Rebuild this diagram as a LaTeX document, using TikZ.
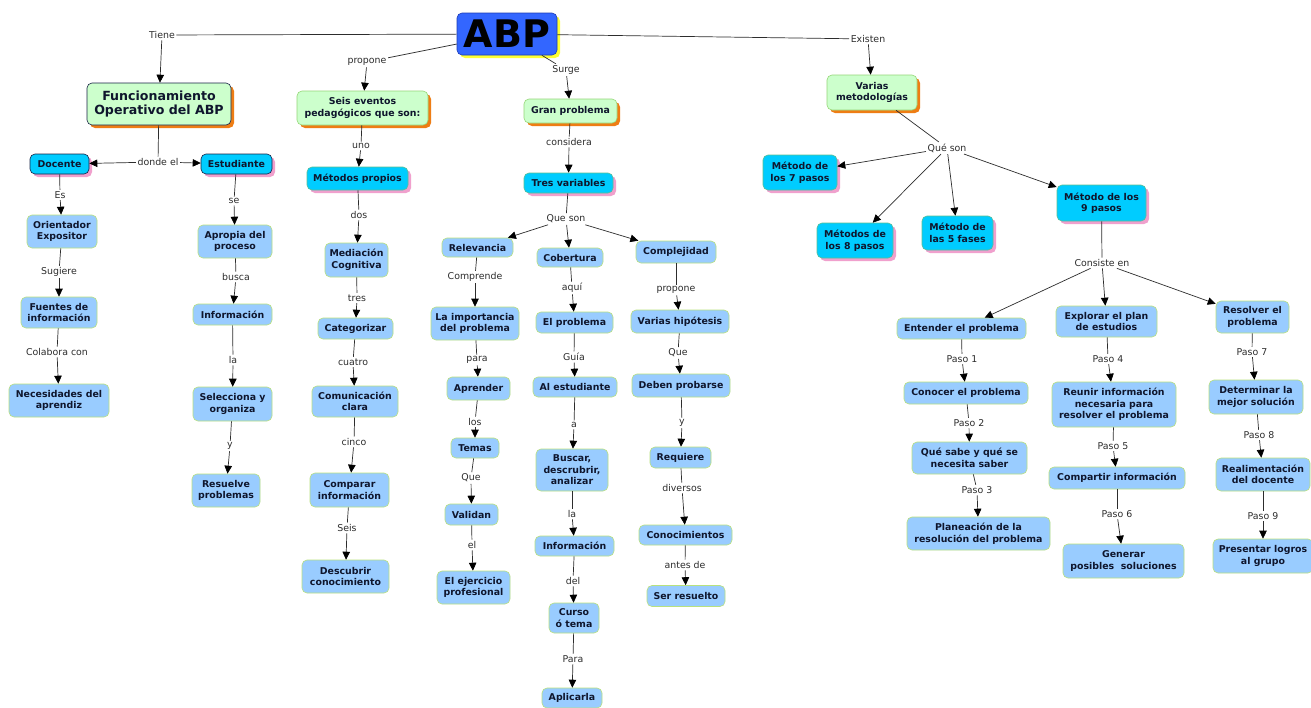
\documentclass[tikz,border=0pt]{standalone}
\usepackage{fontspec}
\setmainfont{DejaVu Sans}
\usetikzlibrary{arrows.meta,shadows}
\definecolor{txt}{RGB}{15,22,45}
\definecolor{lbltxt}{RGB}{45,45,45}
\definecolor{lncol}{RGB}{45,45,45}
\definecolor{gfill}{RGB}{204,255,204}
\definecolor{gline}{RGB}{150,215,120}
\definecolor{shorange}{RGB}{238,125,20}
\definecolor{cfill}{RGB}{0,204,255}
\definecolor{cline}{RGB}{90,190,150}
\definecolor{darkline}{RGB}{25,35,70}
\definecolor{shpink}{RGB}{240,160,205}
\definecolor{bfill}{RGB}{153,204,255}
\definecolor{bline}{RGB}{185,225,125}
\definecolor{abpfill}{RGB}{51,102,255}
\definecolor{abpline}{RGB}{30,60,180}
\definecolor{abpshadow}{RGB}{255,255,51}
\newcommand\cmlink[3]{\draw[conn] (#1) -- (#2); \draw[arr] (#2) -- (#3);}
\begin{document}
\begin{tikzpicture}[x=1pt,y=-1pt,
  sz/.style 2 args={minimum width=#1pt,minimum height=#2pt},
  cbase/.style={rounded corners=5pt, align=center, inner sep=0pt,
    font=\bfseries\fontsize{9.4}{11.5}\selectfont, text=txt, line width=0.6pt},
  gnode/.style={cbase, fill=gfill, draw=gline,
    drop shadow={shadow xshift=3pt,shadow yshift=-3pt,fill=shorange,opacity=1}},
  cnode/.style={cbase, fill=cfill, draw=cline,
    drop shadow={shadow xshift=3pt,shadow yshift=-3pt,fill=shpink,opacity=1}},
  bnode/.style={cbase, fill=bfill, draw=bline},
  lbl/.style={font=\fontsize{9.4}{11}\selectfont, text=lbltxt, inner sep=1.5pt},
  conn/.style={draw=lncol, line width=0.7pt},
  arr/.style={conn, -{Triangle[length=8pt,width=7.5pt,color=black,fill=black]}},
]
\fill[white] (0,0) rectangle (1311,707);
\useasboundingbox (0,0) rectangle (1311,707);

% ---------- concepts ----------
\node[cbase, sz={100}{42}, fill=abpfill, draw=abpline, text=black,
  font=\bfseries\fontsize{38}{40}\selectfont,
  drop shadow={shadow xshift=3pt,shadow yshift=-3pt,fill=abpshadow,opacity=1}] (abp) at (507,34) {ABP};

\node[gnode, sz={144}{42}, draw=darkline, font=\bfseries\fontsize{12.6}{14.7}\selectfont] (func) at (159,104) {Funcionamiento\\Operativo del ABP};
\node[gnode, sz={131}{34}] (seis) at (362.5,108) {Seis eventos\\pedagógicos que son:};
\node[gnode, sz={93}{24}] (gran) at (570.5,111) {Gran problema};
\node[gnode, sz={90}{35}] (varias) at (872,92.5) {Varias\\metodologías};

\node[cnode, sz={59}{20}, draw=darkline] (docente) at (59.5,164) {Docente};
\node[cnode, sz={71}{20}, draw=darkline] (estud) at (236.5,164) {Estudiante};
\node[bnode, sz={70}{33}] (orient) at (62,231.5) {Orientador\\Expositor};
\node[bnode, sz={76}{31}] (fuentes) at (59,312.5) {Fuentes de\\información};
\node[bnode, sz={100}{33}] (neces) at (59,400.5) {Necesidades del\\aprendiz};
\node[bnode, sz={74}{33}] (apropia) at (235,241.5) {Apropia del\\proceso};
\node[bnode, sz={79}{21}] (infoa) at (232.5,314.5) {Información};
\node[bnode, sz={79}{34}] (selec) at (232.5,404) {Selecciona y\\organiza};
\node[bnode, sz={68}{33}] (resuelve) at (226,490.5) {Resuelve\\problemas};

\node[cnode, sz={101}{23}] (metprop) at (357.5,178.5) {Métodos propios};
\node[bnode, sz={63}{34}] (mediac) at (356.5,260) {Mediación\\Cognitiva};
\node[bnode, sz={75}{21}] (categ) at (355.5,328.5) {Categorizar};
\node[bnode, sz={86}{31}] (comun) at (355,401.5) {Comunicación\\clara};
\node[bnode, sz={79}{34}] (compar) at (349.5,490) {Comparar\\información};
\node[bnode, sz={87}{33}] (descub) at (345.5,576.5) {Descubrir\\conocimiento};

\node[cnode, sz={89}{20}] (tres) at (568.5,183) {Tres variables};
\node[bnode, sz={71}{19}] (relev) at (477.5,247.5) {Relevancia};
\node[bnode, sz={88}{33}] (import) at (475,323.5) {La importancia\\del problema};
\node[bnode, sz={63}{23}] (aprender) at (478.5,388.5) {Aprender};
\node[bnode, sz={48}{20}] (temas) at (475,448) {Temas};
\node[bnode, sz={53}{21}] (validan) at (471.5,514.5) {Validan};
\node[bnode, sz={73}{33}] (ejerc) at (473.5,587.5) {El ejercicio\\profesional};

\node[bnode, sz={66}{19}] (cobert) at (570,257.5) {Cobertura};
\node[bnode, sz={77}{21}] (elprob) at (574.5,322.5) {El problema};
\node[bnode, sz={84}{20}] (alest) at (575,387) {Al estudiante};
\node[bnode, sz={72}{42}] (buscar) at (572,470) {Buscar,\\descrubrir,\\analizar};
\node[bnode, sz={79}{20}] (infob) at (574.5,546) {Información};
\node[bnode, sz={50}{30}] (curso) at (574,618) {Curso\\ó tema};
\node[bnode, sz={60}{20}] (aplic) at (572,698) {Aplicarla};

\node[bnode, sz={80}{22}] (complej) at (676,252) {Complejidad};
\node[bnode, sz={98}{23}] (hipot) at (680,321.5) {Varias hipótesis};
\node[bnode, sz={98}{23}] (deben) at (681,385.5) {Deben probarse};
\node[bnode, sz={61}{21}] (requiere) at (680.5,457.5) {Requiere};
\node[bnode, sz={93}{20}] (conoc) at (685.5,535) {Conocimientos};
\node[bnode, sz={78}{21}] (ser) at (686,596) {Ser resuelto};

\node[cnode, sz={74}{35}] (msiete) at (800,172.5) {Método de\\los 7 pasos};
\node[cnode, sz={76}{35}] (mocho) at (855,240.5) {Métodos de\\los 8 pasos};
\node[cnode, sz={71}{34}] (mcinco) at (957.5,233) {Método de\\las 5 fases};
\node[cnode, sz={89}{36}] (mnueve) at (1101.5,203) {Método de los\\9 pasos};

\node[bnode, sz={129}{21}] (entender) at (961.5,328.5) {Entender el problema};
\node[bnode, sz={124}{22}] (conocer) at (966,393) {Conocer el problema};
\node[bnode, sz={115}{32}] (quesabe) at (969.5,458) {Qué sabe y qué se\\necesita saber};
\node[bnode, sz={143}{33}] (planea) at (978.5,533.5) {Planeación de la\\resolución del problema};
\node[bnode, sz={101}{31}] (explorar) at (1106.5,321.5) {Explorar el plan\\de estudios};
\node[bnode, sz={124}{45}] (reunir) at (1114,404.5) {Reunir información\\necesaria para\\resolver el problema};
\node[bnode, sz={136}{22}] (compart) at (1117,478) {Compartir información};
\node[bnode, sz={121}{34}] (generar) at (1123.5,561) {Generar\\posibles\ \ soluciones};
\node[bnode, sz={73}{32}] (resolver) at (1252.5,317) {Resolver el\\problema};
\node[bnode, sz={94}{34}] (determ) at (1256,397) {Determinar la\\mejor solución};
\node[bnode, sz={94}{33}] (realim) at (1263,474.5) {Realimentación\\del docente};
\node[bnode, sz={100}{34}] (present) at (1263,556) {Presentar logros\\al grupo};

% ---------- linking phrases ----------
\node[lbl] (tiene) at (162,35) {Tiene};
\node[lbl] (propone) at (367,62) {propone};
\node[lbl] (surge) at (566,70) {Surge};
\node[lbl] (existen) at (868,39) {Existen};
\node[lbl] (donde) at (158,162) {donde el};
\node[lbl] (es) at (60,195) {Es};
\node[lbl] (sugiere) at (59,272) {Sugiere};
\node[lbl] (colabora) at (57,352) {Colabora con};
\node[lbl] (se) at (234,201) {se};
\node[lbl] (busca) at (236,277) {busca};
\node[lbl] (laa) at (233,360) {la};
\node[lbl] (ya) at (230,446) {y};
\node[lbl] (uno) at (361,146) {uno};
\node[lbl] (dos) at (359,215) {dos};
\node[lbl] (tresl) at (357,298) {tres};
\node[lbl] (cuatro) at (353,362) {cuatro};
\node[lbl] (cinco) at (354,442) {cinco};
\node[lbl] (seisl) at (347,528) {Seis};
\node[lbl] (considera) at (569,142) {considera};
\node[lbl] (queson) at (566,219) {Que son};
\node[lbl] (comprende) at (475,277) {Comprende};
\node[lbl] (para) at (477,360) {para};
\node[lbl] (los) at (475,422) {los};
\node[lbl] (quea) at (471,478) {Que};
\node[lbl] (el) at (472,545) {el};
\node[lbl] (aqui) at (572,288) {aquí};
\node[lbl] (guia) at (574,357) {Guía};
\node[lbl] (a) at (574,425) {a};
\node[lbl] (lab) at (572,514) {la};
\node[lbl] (del) at (573,581) {del};
\node[lbl] (parab) at (573,659) {Para};
\node[lbl] (proponeb) at (676,290) {propone};
\node[lbl] (queb) at (678,353) {Que};
\node[lbl] (yb) at (682,423) {y};
\node[lbl] (diversos) at (682,488) {diversos};
\node[lbl] (antes) at (685,565) {antes de};
\node[lbl] (quesonb) at (947,148) {Qué son};
\node[lbl] (consiste) at (1102,263) {Consiste en};
\node[lbl] (pasoi) at (962,359) {Paso 1};
\node[lbl] (pasoii) at (969,423) {Paso 2};
\node[lbl] (pasoiii) at (977,490) {Paso 3};
\node[lbl] (pasoiv) at (1108,359) {Paso 4};
\node[lbl] (pasov) at (1113,446) {Paso 5};
\node[lbl] (pasovi) at (1117,514) {Paso 6};
\node[lbl] (pasovii) at (1252,352) {Paso 7};
\node[lbl] (pasoviii) at (1259,435) {Paso 8};
\node[lbl] (pasoix) at (1263,516) {Paso 9};

% ---------- connectors ----------
\cmlink{abp}{tiene}{func}
\cmlink{abp}{propone}{seis}
\cmlink{abp}{surge}{gran}
\cmlink{abp}{existen}{varias}

\draw[conn] (func) -- (donde);
\draw[arr] (donde) -- (docente);
\draw[arr] (donde) -- (estud);
\cmlink{docente}{es}{orient}
\cmlink{orient}{sugiere}{fuentes}
\cmlink{fuentes}{colabora}{neces}
\cmlink{estud}{se}{apropia}
\cmlink{apropia}{busca}{infoa}
\cmlink{infoa}{laa}{selec}
\cmlink{selec}{ya}{resuelve}

\cmlink{seis}{uno}{metprop}
\cmlink{metprop}{dos}{mediac}
\cmlink{mediac}{tresl}{categ}
\cmlink{categ}{cuatro}{comun}
\cmlink{comun}{cinco}{compar}
\cmlink{compar}{seisl}{descub}

\cmlink{gran}{considera}{tres}
\draw[conn] (tres) -- (queson);
\draw[arr] (queson) -- (relev);
\draw[arr] (queson) -- (cobert);
\draw[arr] (queson) -- (complej);
\cmlink{relev}{comprende}{import}
\cmlink{import}{para}{aprender}
\cmlink{aprender}{los}{temas}
\cmlink{temas}{quea}{validan}
\cmlink{validan}{el}{ejerc}
\cmlink{cobert}{aqui}{elprob}
\cmlink{elprob}{guia}{alest}
\cmlink{alest}{a}{buscar}
\cmlink{buscar}{lab}{infob}
\cmlink{infob}{del}{curso}
\cmlink{curso}{parab}{aplic}
\cmlink{complej}{proponeb}{hipot}
\cmlink{hipot}{queb}{deben}
\cmlink{deben}{yb}{requiere}
\cmlink{requiere}{diversos}{conoc}
\cmlink{conoc}{antes}{ser}

\draw[conn] (varias) -- (quesonb);
\draw[arr] (quesonb) -- (msiete);
\draw[arr] (quesonb) -- (mocho);
\draw[arr] (quesonb) -- (mcinco);
\draw[arr] (quesonb) -- (mnueve);
\draw[conn] (mnueve) -- (consiste);
\draw[arr] (consiste) -- (entender);
\draw[arr] (consiste) -- (explorar);
\draw[arr] (consiste) -- (resolver);
\cmlink{entender}{pasoi}{conocer}
\cmlink{conocer}{pasoii}{quesabe}
\cmlink{quesabe}{pasoiii}{planea}
\cmlink{explorar}{pasoiv}{reunir}
\cmlink{reunir}{pasov}{compart}
\cmlink{compart}{pasovi}{generar}
\cmlink{resolver}{pasovii}{determ}
\cmlink{determ}{pasoviii}{realim}
\cmlink{realim}{pasoix}{present}
\end{tikzpicture}
\end{document}
